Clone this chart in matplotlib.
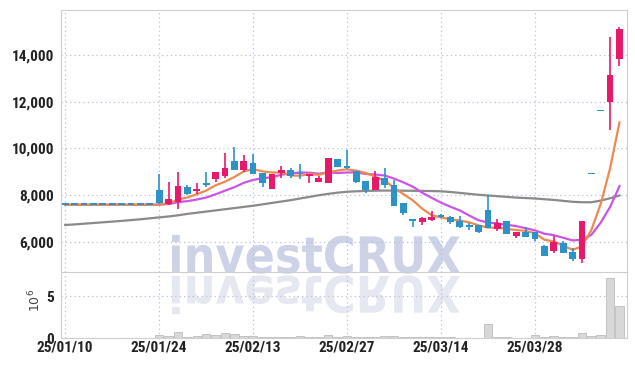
import numpy as np
import pandas as pd
import matplotlib
matplotlib.use("Agg")
import matplotlib.pyplot as plt
from matplotlib.textpath import TextPath
from matplotlib.patches import PathPatch
from matplotlib.font_manager import FontProperties, fontManager
from matplotlib.transforms import Affine2D, IdentityTransform
from matplotlib.ticker import FuncFormatter

# ------------------------------------------------------------------ #
#                               DATA                                 #
# ------------------------------------------------------------------ #

tick_labels = ["25/01/10", "25/01/24", "25/02/13", "25/02/27", "25/03/14", "25/03/28"]

opens = [7580] * 10 + [
    8200, 7620, 7720, 8330, 8160, 8480, 8680, 8820, 9460, 9060,
    9380, 8950, 8240, 8930, 9060, 8920, 8810, 8540, 8530, 9530,
    9250, 9040, 8600, 8210, 8740, 8430, 7640, 6980, 6830, 6940,
    7150, 7050, 6870, 6700, 6720, 7360, 6550, 6870, 6230, 6410,
    6420, 5830, 5590, 5940, 5550, 5240, 8880, 11580, 11970, 13820]
highs = [7580] * 10 + [
    8920, 8540, 8970, 8420, 8500, 8970, 8990, 9780, 10050, 9700,
    9750, 8960, 8900, 9230, 9140, 9350, 8870, 8820, 9600, 9540,
    9910, 9050, 8610, 9020, 9140, 8640, 7650, 6990, 7040, 7320,
    7200, 7100, 7080, 6780, 6730, 8000, 6970, 6880, 6420, 6610,
    6430, 5840, 6250, 6040, 5730, 6880, 8880, 11580, 14770, 15210]
lows = [7580] * 10 + [
    7600, 7580, 7400, 8020, 8040, 8350, 8570, 8710, 9060, 9000,
    8920, 8350, 8240, 8750, 8750, 8670, 8530, 8540, 8520, 9200,
    9130, 8500, 8070, 8200, 8310, 7520, 7150, 6650, 6720, 6900,
    7000, 6770, 6600, 6480, 6360, 6570, 6440, 6320, 6160, 6180,
    6020, 5380, 5520, 5510, 5160, 5090, 8880, 11580, 10800, 13530]
closes = [7580] * 10 + [
    7650, 7830, 8380, 8040, 8250, 8440, 8970, 9140, 9060, 9450,
    8920, 8500, 8890, 9060, 8810, 8880, 8860, 8710, 9590, 9210,
    9140, 8570, 8210, 8780, 8430, 7550, 7220, 6870, 7000, 7050,
    7050, 6830, 6610, 6610, 6400, 6580, 6800, 6330, 6400, 6190,
    6100, 5400, 5970, 5520, 5240, 6870, 8880, 11580, 13150, 15100]

# volume in millions
volumes = [0] * 10 + [
    0.40, 0.24, 0.77, 0.12, 0.24, 0.48, 0.40, 0.65, 0.52, 0.28,
    0.24, 0.12, 0.12, 0.12, 0.10, 0.24, 0.12, 0.08, 0.40, 0.12,
    0.24, 0.12, 0.12, 0.10, 0.24, 0.24, 0.12, 0.10, 0.10, 0.10,
    0.12, 0.12, 0.06, 0.06, 0.06, 1.69, 0.12, 0.12, 0.05, 0.05,
    0.36, 0.14, 0.24, 0.12, 0.12, 0.60, 0.24, 0.36, 7.26, 3.83]

# long moving average (gray)
ma_long = [
    6714, 6740, 6770, 6800, 6830, 6860, 6890, 6925, 6960, 7000,
    7040, 7080, 7130, 7190, 7240, 7290, 7340, 7390, 7440, 7490,
    7540, 7600, 7660, 7720, 7780, 7850, 7920, 7990, 8050, 8100,
    8140, 8160, 8175, 8185, 8190, 8190, 8185, 8180, 8175, 8170,
    8160, 8130, 8090, 8050, 8010, 7980, 7950, 7920, 7890, 7870,
    7850, 7820, 7790, 7750, 7710, 7690, 7690, 7760, 7860, 7980]

# ------------------------------------------------------------------ #
#                              STYLE                                 #
# ------------------------------------------------------------------ #

RED   = "#e8196b"
BLUE  = "#2b93c8"
GRID  = "#b8c0dc"
SPINE = "#cfcfcf"

# pick a narrow face if one is installed
_names = {f.name for f in fontManager.ttflist}
TICKFONT = [n for n in ("DejaVu Sans Condensed", "Liberation Sans Narrow",
                        "Roboto Condensed", "Roboto") if n in _names] + ["DejaVu Sans"]
NARROW = TICKFONT[0] in ("DejaVu Sans Condensed", "Liberation Sans Narrow", "Roboto Condensed")
YSIZE = 11 if NARROW else 10.5
XSIZE = 11 if NARROW else 10

plt.rcParams['font.family'] = TICKFONT

W, H = 635, 366
fig = plt.figure(figsize=(W / 100, H / 100), dpi=100, facecolor="white")
ax  = fig.add_axes([61 / W, 1 - 272 / H, (627 - 61) / W, (272 - 10) / H])
axv = fig.add_axes([61 / W, 1 - 338 / H, (627 - 61) / W, (338 - 272) / H], sharex=ax)
for a in (ax, axv):
    a.set_facecolor("none")

# ------------------------------------------------------------------ #
#                             WATERMARK                              #
# ------------------------------------------------------------------ #

wm_prop = FontProperties(family="DejaVu Sans", weight="bold")
wm_path = TextPath((0, 0), "investCRUX", size=1, prop=wm_prop)
ext = wm_path.get_extents()
cap = TextPath((0, 0), "C", size=1, prop=wm_prop).get_extents().height
sx = (460 - 172) / ext.width
sy = 38 / cap
base = H - 273
wm = Affine2D().translate(-ext.x0, 0).scale(sx, sy).translate(172, base)
wm_ref = Affine2D().translate(-ext.x0, 0).scale(sx, -sy).translate(172, base - 3)
fig.add_artist(PathPatch(wm_path, transform=wm + IdentityTransform(),
                         color="#cdd2e6", lw=0, zorder=-1))
fig.add_artist(PathPatch(wm_path, transform=wm_ref + IdentityTransform(),
                         color="#e6e8f1", lw=0, zorder=-1))

# ------------------------------------------------------------------ #
#                              CANDLES                               #
# ------------------------------------------------------------------ #

x = np.arange(len(closes))
o = np.array(opens, dtype=float)
c = np.array(closes, dtype=float)
colors = [RED if cc > oo else BLUE for oo, cc in zip(o, c)]

close_s = pd.Series(c)
ax.plot(x, ma_long, color="#8a8a8a", lw=1.6, zorder=2)
ax.plot(x, close_s.rolling(10, min_periods=1).mean(), color="#cc55e8", lw=1.6, zorder=2)
ax.plot(x, close_s.rolling(5, min_periods=1).mean(), color="#ee8a50", lw=1.6, zorder=2)

ax.vlines(x, lows, highs, colors=colors, lw=1.2, zorder=3)
body_h = np.maximum(np.abs(c - o), 70)
ax.bar(x, body_h, bottom=np.minimum(o, c), width=0.72, color=colors, lw=0, zorder=4)

axv.bar(x, volumes, width=0.9, color="#d8d8d8", edgecolor="#bdbdbd", lw=0.6, zorder=2)

# ------------------------------------------------------------------ #
#                               AXES                                 #
# ------------------------------------------------------------------ #

ax.set_xlim(-0.45, 59.8)
ax.set_ylim(4700, 15930)
ax.set_yticks([6000, 8000, 10000, 12000, 14000])
ax.yaxis.set_major_formatter(FuncFormatter(lambda v, p: f"{int(v):,}"))
axv.set_ylim(0, 7.95)
axv.set_yticks([0, 5])
axv.set_xticks(x[::10])
axv.set_xticklabels(tick_labels)

for a in (ax, axv):
    a.grid(True, color=GRID, ls=(0, (1, 2.5)), lw=0.9, zorder=0)
    a.set_axisbelow(True)
    for s in a.spines.values():
        s.set_color(SPINE)
    a.tick_params(axis="y", length=0, labelsize=YSIZE, colors="#222222", pad=5)
    a.tick_params(axis="x", length=0, labelsize=XSIZE, colors="#222222", pad=2)
    for lab in a.get_yticklabels() + a.get_xticklabels():
        lab.set_fontweight("bold")

ax.tick_params(labelbottom=False)
axv.spines["top"].set_visible(False)

fig.text(35 / W, 1 - 300 / H, r"$10^6$", rotation=90, ha="center", va="center",
         fontsize=9, color="#444444", family="DejaVu Sans")

fig.savefig("out.png", dpi=100)
